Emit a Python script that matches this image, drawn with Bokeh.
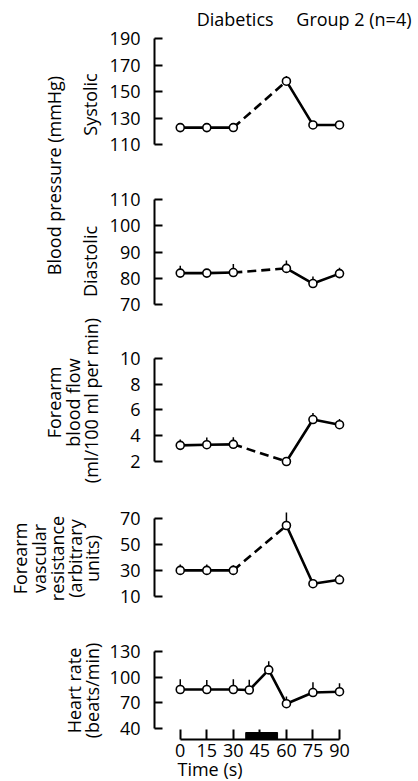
import math
from bokeh.plotting import figure
from bokeh.models import Range1d, FixedTicker, Title
from bokeh.layouts import row, column
from bokeh.embed import file_html
from bokeh.resources import INLINE
from bokeh.core.properties import value

FONT = "Open Sans"
FS = "18px"

# ---------------- data ----------------
time_main = [0, 15, 30, 60, 75, 90]
systolic = [123, 123, 123, 158, 125, 125]
systolic_err = [0, 0, 0, 4, 0, 0]
diastolic = [82, 82, 82.2, 83.8, 78, 81.8]
diastolic_err = [2.8, 1.5, 3.3, 3.0, 2.7, 2.2]
flow = [3.25, 3.3, 3.33, 2.0, 5.25, 4.85]
flow_err = [0.45, 0.55, 0.55, 0, 0.5, 0.45]
resistance = [30, 30, 30, 64.4, 19.8, 22.8]
resistance_err = [4.5, 4.5, 4.0, 12.8, 0, 4.2]
time_hr = [0, 15, 30, 39, 50, 60, 75, 90]
heart_rate = [85.6, 85.6, 85.6, 85, 108.5, 69, 82, 83]
heart_rate_err = [12, 11, 12, 12, 10, 8.5, 12, 10]
grip_start, grip_end = 37, 55

sys_ticks = [110, 130, 150, 170, 190]
dia_ticks = [70, 80, 90, 100, 110]
flow_ticks = [2, 4, 6, 8, 10]
res_ticks = [10, 30, 50, 70]
hr_ticks = [40, 70, 100, 130]
time_ticks = [0, 15, 30, 45, 60, 75, 90]

# ---------------- layout constants (page pixels) ----------------
TOTAL_H = 781
LEFT_W = 106
PANEL_W = 312
BORDER_L = 46
FRAME_W = 205
BORDER_R = PANEL_W - BORDER_L - FRAME_W
PX_PER_S = 1.787
X_START = -26 / PX_PER_S
X_END = X_START + FRAME_W / PX_PER_S


def panel(band_top, band_bot, frame_top, frame_bot, ticks, hi_page, lo_page,
          series_t, series_v, series_err, dashed, xaxis=False):
    lo, hi = ticks[0], ticks[-1]
    scale = (lo_page - hi_page) / (hi - lo)
    y_end = hi + (hi_page - frame_top) / scale
    y_start = lo - (frame_bot - lo_page) / scale
    p = figure(width=PANEL_W, height=band_bot - band_top,
               x_range=Range1d(X_START, X_END), y_range=Range1d(y_start, y_end),
               min_border_left=BORDER_L, min_border_right=BORDER_R,
               min_border_top=frame_top - band_top, min_border_bottom=band_bot - frame_bot,
               toolbar_location=None, output_backend="svg",
               x_axis_location="below" if xaxis else None, y_axis_location="left")
    p.outline_line_color = None
    p.grid.visible = False
    ya = p.yaxis[0]
    ya.ticker = FixedTicker(ticks=ticks)
    ya.bounds = (lo, hi)
    ya.axis_line_width = 2
    ya.major_tick_line_width = 2
    ya.major_tick_in = 8
    ya.major_tick_out = 0
    ya.minor_tick_line_color = None
    ya.major_label_standoff = 14
    ya.major_label_text_font = FONT
    ya.major_label_text_font_size = FS
    ya.major_label_text_color = "black"
    if xaxis:
        xa = p.xaxis[0]
        xa.ticker = FixedTicker(ticks=time_ticks)
        xa.bounds = (time_ticks[0], time_ticks[-1])
        xa.axis_line_width = 2
        xa.major_tick_line_width = 2
        xa.major_tick_in = 10
        xa.major_tick_out = 0
        xa.minor_tick_line_color = None
        xa.major_label_standoff = 4
        xa.major_label_text_font = FONT
        xa.major_label_text_font_size = FS
        xa.major_label_text_color = "black"
    tops = [v + e for v, e in zip(series_v, series_err)]
    p.segment(x0=series_t, y0=series_v, x1=series_t, y1=tops, line_color="black", line_width=1.5)
    if dashed is None:
        p.line(series_t, series_v, line_color="black", line_width=2.6)
    else:
        i, j = dashed
        p.line(series_t[:i + 1], series_v[:i + 1], line_color="black", line_width=2.6)
        p.line(series_t[i:j + 1], series_v[i:j + 1], line_color="black", line_width=2.6,
               line_dash="9 5")
        p.line(series_t[j:], series_v[j:], line_color="black", line_width=2.6)
    p.scatter(series_t, series_v, size=8, fill_color="white", line_color="black", line_width=1.6)
    return p, scale, y_start, y_end


p1, s1, ys1, ye1 = panel(0, 170, 32, 150, sys_ticks, 38.3, 144.3,
                         time_main, systolic, systolic_err, (2, 3))
p2, s2, ys2, ye2 = panel(170, 330, 193, 310, dia_ticks, 199.3, 304,
                         time_main, diastolic, diastolic_err, (2, 3))
p3, s3, ys3, ye3 = panel(330, 490, 352, 467, flow_ticks, 357.7, 461,
                         time_main, flow, flow_err, (2, 3))
p4, s4, ys4, ye4 = panel(490, 625, 512, 602, res_ticks, 517.7, 596,
                         time_main, resistance, resistance_err, (2, 3))
p5, s5, ys5, ye5 = panel(625, TOTAL_H, 645, 739, hr_ticks, 651, 728,
                         time_hr, heart_rate, heart_rate_err, None, xaxis=True)

# handgrip bar on the time axis
p5.quad(left=[grip_start], right=[grip_end], bottom=[ys5], top=[ys5 + 7 / s5],
        fill_color="black", line_color="black")

# title of the whole chart
p1.add_layout(Title(text="Diabetics\u2003 Group 2 (n=4)", align="right", offset=-54,
                    standoff=4, text_font=FONT, text_font_size=FS,
                    text_font_style="normal", text_color="black"), "above")

# time axis title
p5.add_layout(Title(text="Time (s)", align="left", offset=23, standoff=-10,
                    text_font=FONT, text_font_size=FS, text_font_style="normal",
                    text_color="black"), "below")

# ---------------- left column with rotated axis titles ----------------
left = figure(width=LEFT_W, height=TOTAL_H, x_range=Range1d(0, LEFT_W),
              y_range=Range1d(0, TOTAL_H), min_border=0, toolbar_location=None,
              output_backend="svg", x_axis_location=None, y_axis_location=None)
left.outline_line_color = None
left.grid.visible = False

label_texts = ["Blood pressure (mmHg)", "Systolic", "Diastolic",
               "Forearm", "blood flow", "(ml/100 ml per min)",
               "Forearm", "vascular", "resistance", "(arbitrary", "units)",
               "Heart rate", "(beats/min)"]
label_page_x = [53, 89, 89,
                53, 72, 90,
                19, 38, 56, 74, 91,
                73, 91]
label_page_y = [175, 104, 261,
                402, 402, 400,
                558, 558, 558, 558, 558,
                690, 690]
left.text(x=label_page_x, y=[TOTAL_H - py for py in label_page_y],
          text=label_texts, angle=math.pi / 2, text_align="center", text_baseline="middle",
          text_font=value(FONT), text_font_size=FS, text_color="black")

layout = row(left, column(p1, p2, p3, p4, p5))
open("out.html", "w").write(file_html(layout, INLINE))
